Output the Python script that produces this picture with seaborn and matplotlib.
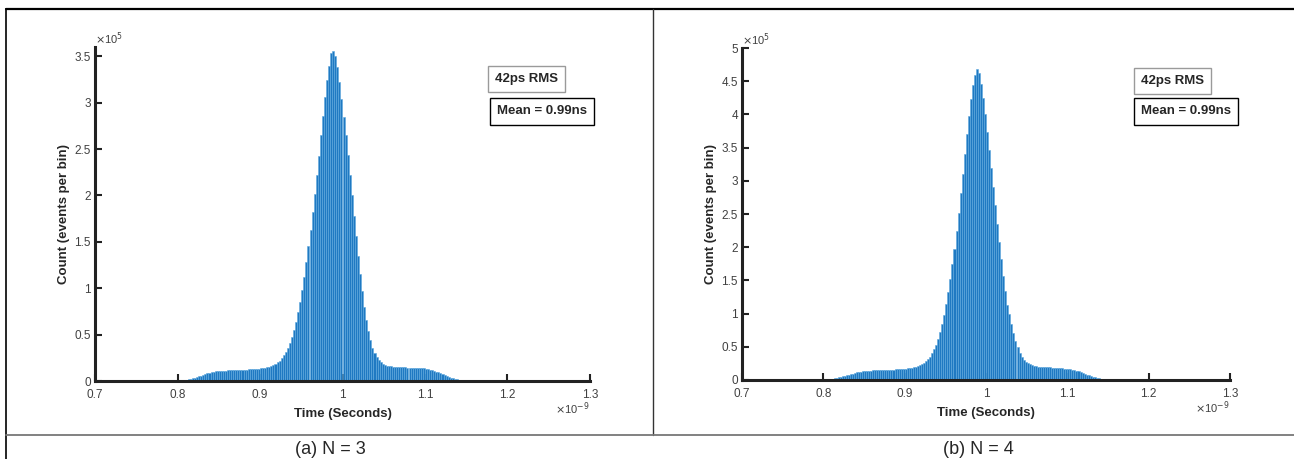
import numpy as np
import pandas as pd
import matplotlib
matplotlib.use("Agg")
import matplotlib.pyplot as plt
import seaborn as sns

# ──────────────────────────────────────────────
# Data — time in ns, counts in units of 1e5
# 2.5 ps bins from 0.800 ns to 1.160 ns
# ──────────────────────────────────────────────
BIN_WIDTH = 0.0025
BIN_RANGE = (0.800, 1.160)
bin_centers = BIN_RANGE[0] + BIN_WIDTH * (np.arange(144) + 0.5)

counts_n3 = [
    .003, .006, .009, .012, .016, .02, .025, .03,
    .036, .042, .05, .058, .066, .074, .082, .089,
    .095, .10, .104, .107, .109, .111, .112, .113,
    .114, .115, .116, .117, .118, .119, .12, .121,
    .122, .123, .124, .125, .127, .129, .131, .133,
    .136, .139, .143, .148, .155, .162, .172, .184,
    .2, .22, .245, .275, .31, .355, .41, .475,
    .55, .64, .74, .85, .98, 1.12, 1.28, 1.45,
    1.63, 1.82, 2.02, 2.22, 2.43, 2.65, 2.86, 3.06,
    3.24, 3.4, 3.53, 3.56, 3.5, 3.38, 3.22, 3.04,
    2.85, 2.65, 2.44, 2.22, 2.0, 1.78, 1.56, 1.35,
    1.15, .97, .8, .66, .54, .44, .36, .3,
    .255, .225, .2, .185, .175, .167, .161, .157,
    .154, .152, .15, .149, .148, .147, .146, .145,
    .145, .144, .143, .142, .141, .139, .137, .135,
    .132, .128, .123, .117, .11, .102, .093, .084,
    .074, .064, .054, .045, .037, .03, .024, .019,
    .014, .01, .007, .005, .003, .002, .001, .0005,
]

counts_n4 = [
    .003, .006, .01, .014, .019, .025, .031, .038,
    .045, .053, .061, .07, .079, .088, .097, .106,
    .114, .121, .127, .132, .136, .139, .141, .143,
    .145, .147, .148, .149, .15, .151, .152, .153,
    .155, .156, .158, .16, .162, .164, .166, .168,
    .171, .174, .178, .183, .19, .198, .208, .22,
    .235, .255, .28, .31, .35, .4, .46, .53,
    .62, .72, .84, .98, 1.14, 1.32, 1.52, 1.74,
    1.98, 2.24, 2.52, 2.81, 3.1, 3.4, 3.7, 3.98,
    4.23, 4.44, 4.6, 4.69, 4.62, 4.46, 4.25, 4.0,
    3.74, 3.47, 3.19, 2.91, 2.63, 2.35, 2.08, 1.82,
    1.57, 1.34, 1.13, 1.0, .85, .71, .59, .49,
    .41, .35, .305, .27, .25, .235, .224, .215,
    .208, .203, .2, .197, .195, .193, .191, .189,
    .187, .185, .183, .181, .179, .176, .173, .17,
    .166, .161, .155, .148, .139, .129, .118, .106,
    .094, .082, .07, .059, .049, .04, .032, .025,
    .019, .014, .01, .007, .005, .003, .002, .001,
]

panels = [
    ("(a) N = 3", counts_n3, 3.6, [0, 0.5, 1, 1.5, 2, 2.5, 3, 3.5]),
    ("(b) N = 4", counts_n4, 5.0, [0, 0.5, 1, 1.5, 2, 2.5, 3, 3.5, 4, 4.5, 5]),
]
x_ticks = [0.7, 0.8, 0.9, 1.0, 1.1, 1.2, 1.3]
x_tick_labels = ["0.7", "0.8", "0.9", "1", "1.1", "1.2", "1.3"]
rms_text = "42ps RMS"
mean_text = "Mean = 0.99ns"

# ──────────────────────────────────────────────
# Styling
# ──────────────────────────────────────────────
sns.set_theme(style="white")
plt.rcParams["font.family"] = ["Liberation Sans", "DejaVu Sans"]
BAR_COLOR = "#1f79c2"
EDGE_COLOR = "#5ea9de"
TICK_COLOR = "#404040"

W, H = 1294, 459
fig = plt.figure(figsize=(W / 100, H / 100), dpi=100)

# axes rectangles in pixels: (left, right, bottom, top)
ax_px = [(95, 590, 381, 47), (742, 1230, 380, 48)]
# left edge / vertical centre of the two annotation boxes
box_px = [((488, 79), (490, 111.5)), ((1134, 81), (1134, 111.5))]
caption_x = [330, 978]

for (caption, counts, ymax, yticks), (l, r, b, t), (rms_xy, mean_xy), cx in zip(
        panels, ax_px, box_px, caption_x):
    ax = fig.add_axes([l / W, 1 - b / H, (r - l) / W, (b - t) / H])
    df = pd.DataFrame({"time": bin_centers, "count": counts})
    sns.histplot(data=df, x="time", weights="count", binwidth=BIN_WIDTH,
                 binrange=BIN_RANGE, ax=ax,
                 color=BAR_COLOR, alpha=1.0, edgecolor=EDGE_COLOR, linewidth=0.4)

    ax.set_xlim(0.7, 1.3)
    ax.set_ylim(0, ymax)
    ax.set_xticks(x_ticks)
    ax.set_xticklabels(x_tick_labels)
    ax.set_yticks(yticks)
    ax.set_yticklabels([f"{v:g}" for v in yticks])
    ax.tick_params(direction="in", length=5, width=1.5, colors="#222222",
                   labelcolor=TICK_COLOR, labelsize=8.5,
                   bottom=True, left=True)
    ax.tick_params(axis="x", pad=6)
    ax.tick_params(axis="y", pad=3)
    for side in ["top", "right"]:
        ax.spines[side].set_visible(False)
    for side in ["left", "bottom"]:
        ax.spines[side].set_linewidth(2.2)
        ax.spines[side].set_color("#222222")

    ax.set_xlabel("Time (Seconds)", fontsize=9.5, fontweight="bold", labelpad=5)
    ax.set_ylabel("Count (events per bin)", fontsize=9.5, fontweight="bold", labelpad=3)

    # MATLAB-style exponent labels
    ax.text(0.0, 1.0, r"$\times$10$^{5}$", transform=ax.transAxes,
            fontsize=8, color=TICK_COLOR, ha="left", va="bottom")
    ax.text(1.0, -0.082, r"$\times$10$^{-9}$", transform=ax.transAxes,
            fontsize=8, color=TICK_COLOR, ha="right", va="center")

    # annotation boxes
    fig.text(rms_xy[0] / W + 0.0055, 1 - rms_xy[1] / H, rms_text, fontsize=9.5,
             fontweight="bold", ha="left", va="center",
             bbox=dict(boxstyle="square,pad=0.55", fc="white", ec="#9a9a9a", lw=1))
    fig.text(mean_xy[0] / W + 0.0055, 1 - mean_xy[1] / H, mean_text, fontsize=9.5,
             fontweight="bold", ha="left", va="center",
             bbox=dict(boxstyle="square,pad=0.55", fc="white", ec="black", lw=1))

    fig.text(cx / W, 1 - 449 / H, caption, fontsize=13, ha="center", va="center")

# table-like outer frame
frame = fig.add_axes([0, 0, 1, 1], facecolor="none")
frame.set_xlim(0, W)
frame.set_ylim(H, 0)
frame.axis("off")
frame.plot([6, W], [9, 9], color="black", lw=1.6)
frame.plot([6, 6], [9, H], color="black", lw=1.2)
frame.plot([653, 653], [9, 435], color="#333333", lw=1.0)
frame.plot([6, W], [435, 435], color="#777777", lw=1.3)

fig.savefig("out.png", dpi=100)
